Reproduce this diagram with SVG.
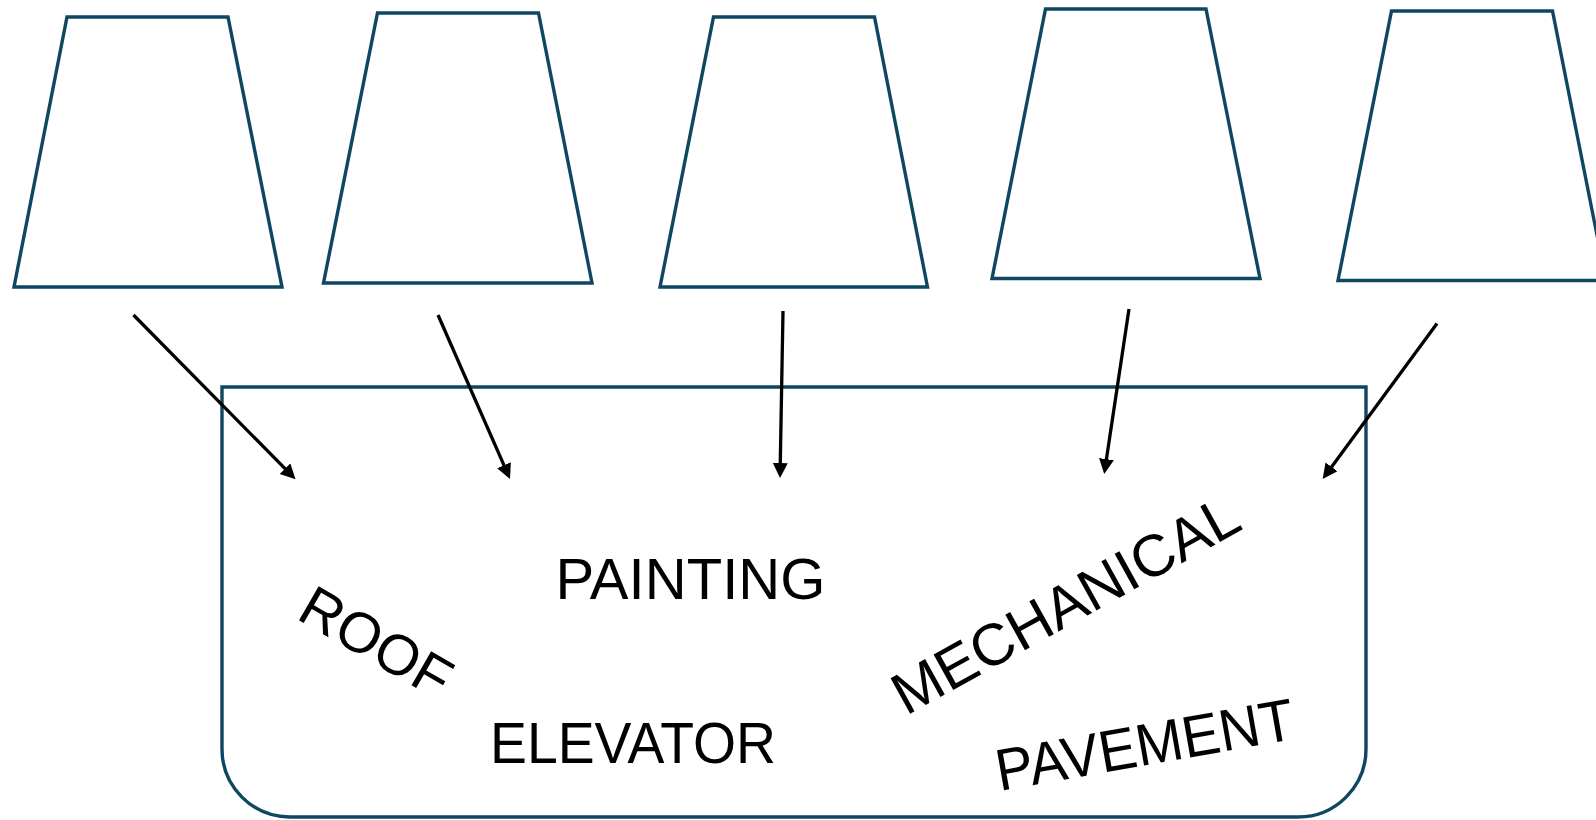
<svg xmlns="http://www.w3.org/2000/svg" width="1596" height="820" viewBox="0 0 1596 820">
  <defs>
    <style>
      .shape { fill: #ffffff; stroke: #0F4761; stroke-width: 3.4; stroke-linejoin: miter; }
      .link { fill: none; stroke: #000000; stroke-width: 3.3; }
      .label { font-family: "Liberation Sans", Arial, sans-serif; fill: #000000; }
    </style>
    <!-- filled arrowhead: tip sits 10 units past the line end -->
    <marker id="head" markerUnits="userSpaceOnUse" markerWidth="16" markerHeight="16" refX="5" refY="7.5" orient="auto">
      <path d="M0,0 L15,7.5 L0,15 Z" fill="#000000"/>
    </marker>
  </defs>

  <rect width="1596" height="820" fill="#ffffff"/>

  <!-- source buckets -->
  <g id="bucket-1"><polygon class="shape" points="67,17 228,17 282,287 14,287"/></g>
  <g id="bucket-2"><polygon class="shape" points="377.5,13 538.5,13 592,283 323.5,283"/></g>
  <g id="bucket-3"><polygon class="shape" points="713.5,17 874.5,17 927.5,287 660,287"/></g>
  <g id="bucket-4"><polygon class="shape" points="1045.5,9 1206,9 1260,278.5 992,278.5"/></g>
  <g id="bucket-5"><polygon class="shape" points="1391.5,11 1552.5,11 1606,280.5 1338,280.5"/></g>

  <!-- collecting container: square top corners, rounded bottom corners -->
  <g id="container">
    <path class="shape" d="M222,387 H1366 V749 A68,68 0 0 1 1298,817 H290 A68,68 0 0 1 222,749 Z"/>
  </g>

  <g id="connectors">
    <line class="link" x1="133.5" y1="315" x2="288.5" y2="472.2" marker-end="url(#head)"/>
    <line class="link" x1="438" y1="315" x2="506" y2="469.8" marker-end="url(#head)"/>
    <line class="link" x1="783" y1="311" x2="780.2" y2="468" marker-end="url(#head)"/>
    <line class="link" x1="1129" y1="309" x2="1105.7" y2="464.1" marker-end="url(#head)"/>
    <line class="link" x1="1437" y1="323.5" x2="1328.6" y2="470.9" marker-end="url(#head)"/>
  </g>

  <!-- category labels inside the container -->
  <g id="label-roof">
    <text class="label" font-size="57" transform="translate(295,618) rotate(30)">ROOF</text>
  </g>
  <g id="label-painting">
    <text class="label" font-size="58" x="555.4" y="598.5" textLength="270" lengthAdjust="spacingAndGlyphs">PAINTING</text>
  </g>
  <g id="label-elevator">
    <text class="label" font-size="58" x="490" y="762.5" textLength="286" lengthAdjust="spacingAndGlyphs">ELEVATOR</text>
  </g>
  <g id="label-mechanical">
    <text class="label" font-size="59" transform="translate(906,716) rotate(-29)">MECHANICAL</text>
  </g>
  <g id="label-pavement">
    <text class="label" font-size="59" transform="translate(999.5,791) rotate(-10)" textLength="302" lengthAdjust="spacingAndGlyphs">PAVEMENT</text>
  </g>
</svg>
